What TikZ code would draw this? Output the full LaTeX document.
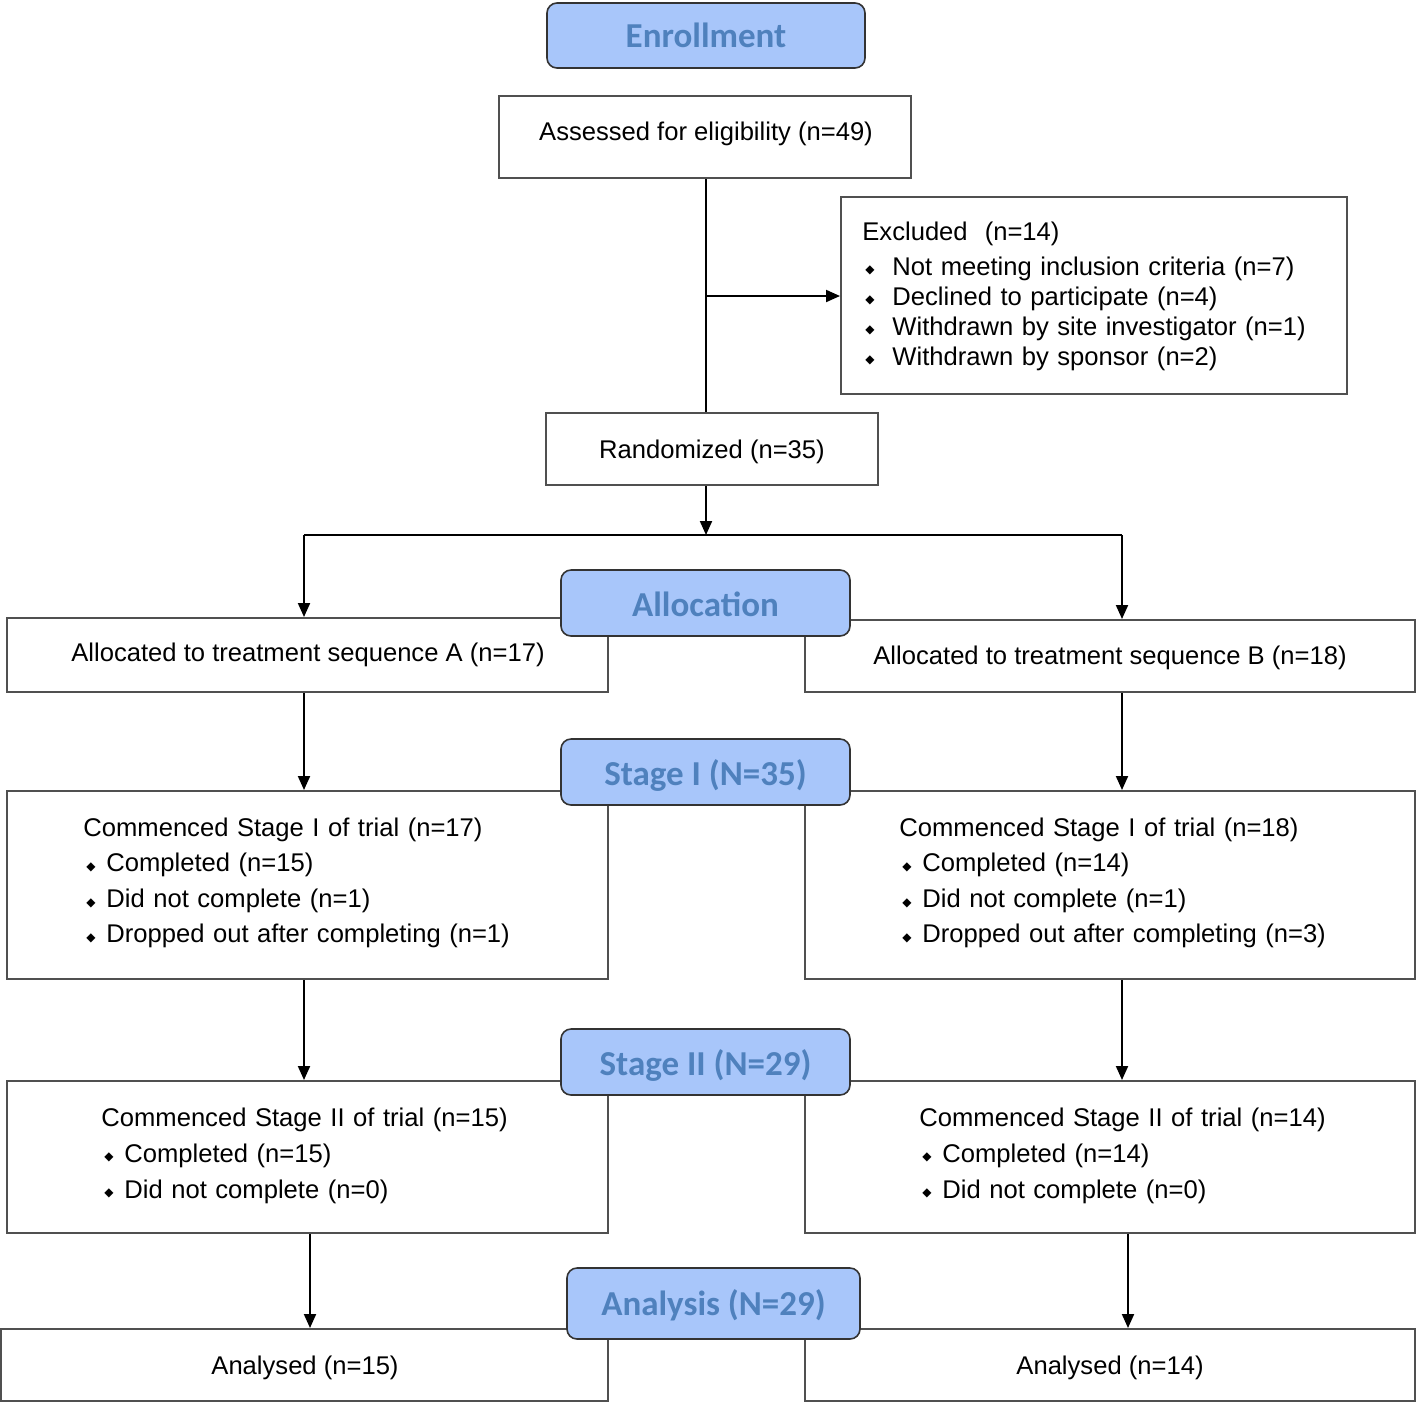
\documentclass[tikz,border=0pt]{standalone}
\usepackage{fontspec}
\setmainfont{Liberation Sans}
\newfontfamily\hdfont{Carlito}
\newfontfamily\symfont{DejaVu Sans}
\usetikzlibrary{arrows.meta}
\definecolor{hdfill}{RGB}{168,198,250}
\definecolor{hdtext}{RGB}{79,129,189}
\definecolor{boxline}{RGB}{80,80,80}
\newcommand\bul[1]{\makebox[#1][l]{\hspace{1.5pt}\raisebox{0.6pt}{\symfont\fontsize{6}{6}\selectfont ◆}}}
\newcommand\hdlow[2]{\raisebox{-#1}[\height][\depth]{#2}}
\begin{document}
\begin{tikzpicture}[x=0.5pt,y=-0.5pt,
  wbox/.style={draw=boxline,line width=1pt,fill=white,inner sep=0pt},
  hdbox/.style={draw=black!80,line width=0.8pt,fill=hdfill,rounded corners=5pt,inner sep=0pt,font=\hdfont\bfseries\fontsize{17.5}{20}\selectfont,text=hdtext},
  txt/.style={inner sep=0pt,font=\fontsize{12.8}{16}\selectfont},
  ltxt/.style={inner sep=0pt,anchor=base west,text width=260pt,align=left},
  arr/.style={-{Triangle[length=7pt,width=6pt]},line width=1pt},
  ln/.style={line width=1pt}]
\useasboundingbox (0,0) rectangle (1418,1404);

% white boxes
\node[wbox,minimum width=206pt,minimum height=41pt] (assess) at (705,137) {};
\node[wbox,minimum width=253pt,minimum height=98.5pt] (excl) at (1094,295.5) {};
\node[wbox,minimum width=166pt,minimum height=36pt] (rand) at (712,449) {};
\node[wbox,minimum width=300.5pt,minimum height=37pt] (allocA) at (307.5,655) {};
\node[wbox,minimum width=305pt,minimum height=36pt] (allocB) at (1110,656) {};
\node[wbox,minimum width=300.5pt,minimum height=94pt] (s1A) at (307.5,885) {};
\node[wbox,minimum width=305pt,minimum height=94pt] (s1B) at (1110,885) {};
\node[wbox,minimum width=300.5pt,minimum height=76pt] (s2A) at (307.5,1157) {};
\node[wbox,minimum width=305pt,minimum height=76pt] (s2B) at (1110,1157) {};
\node[wbox,minimum width=303.5pt,minimum height=36pt] (anA) at (304.5,1365) {};
\node[wbox,minimum width=305pt,minimum height=36pt] (anB) at (1110,1365) {};

% texts
\node[txt] (tassess) at (706,134) {Assessed for eligibility (n=49)};
\node[ltxt,font=\fontsize{12.8}{15}\selectfont] (texcl) at (862,240) {Excluded\ \ (n=14)\\[2.5pt]
\bul{15pt}Not meeting inclusion criteria (n=7)\\
\bul{15pt}Declined to participate (n=4)\\
\bul{15pt}Withdrawn by site investigator (n=1)\\
\bul{15pt}Withdrawn by sponsor (n=2)};
\node[txt] (trand) at (712,452) {Randomized (n=35)};
\node[txt] (tallocA) at (308,655) {Allocated to treatment sequence A (n=17)};
\node[txt] (tallocB) at (1110,658) {Allocated to treatment sequence B (n=18)};
\node[ltxt,font=\fontsize{12.8}{17.8}\selectfont] (ts1A) at (83,836) {Commenced Stage I of trial (n=17)\\
\bul{11.5pt}Completed (n=15)\\
\bul{11.5pt}Did not complete (n=1)\\
\bul{11.5pt}Dropped out after completing (n=1)};
\node[ltxt,font=\fontsize{12.8}{17.8}\selectfont] (ts1B) at (899,836) {Commenced Stage I of trial (n=18)\\
\bul{11.5pt}Completed (n=14)\\
\bul{11.5pt}Did not complete (n=1)\\
\bul{11.5pt}Dropped out after completing (n=3)};
\node[ltxt,font=\fontsize{12.8}{18}\selectfont] (ts2A) at (101,1126) {Commenced Stage II of trial (n=15)\\
\bul{11.5pt}Completed (n=15)\\
\bul{11.5pt}Did not complete (n=0)};
\node[ltxt,font=\fontsize{12.8}{18}\selectfont] (ts2B) at (919,1126) {Commenced Stage II of trial (n=14)\\
\bul{11.5pt}Completed (n=14)\\
\bul{11.5pt}Did not complete (n=0)};
\node[txt] (tanA) at (305,1368) {Analysed (n=15)};
\node[txt] (tanB) at (1110,1368) {Analysed (n=14)};

% connectors
\coordinate (sp) at (706,535);
\coordinate (br) at (706,296);
\coordinate (aL) at (304,535);
\coordinate (aR) at (1122,535);
\coordinate (eL) at (310,1233);
\coordinate (eR) at (1128,1233);
\draw[ln] (assess.south -| sp) -- (rand.north -| sp);
\draw[arr] (br) -- (br -| excl.west);
\draw[arr] (rand.south -| sp) -- (sp);
\draw[ln] (aL) -- (aR);
\draw[arr] (aL) -- (aL |- allocA.north);
\draw[arr] (aR) -- (aR |- allocB.north);
\draw[arr] (allocA.south -| aL) -- (s1A.north -| aL);
\draw[arr] (allocB.south -| aR) -- (s1B.north -| aR);
\draw[arr] (s1A.south -| aL) -- (s2A.north -| aL);
\draw[arr] (s1B.south -| aR) -- (s2B.north -| aR);
\draw[arr] (s2A.south -| eL) -- (anA.north -| eL);
\draw[arr] (s2B.south -| eR) -- (anB.north -| eR);

% headers
\node[hdbox,minimum width=159pt,minimum height=32.5pt] (hEnr) at (706,35.5) {Enrollment};
\node[hdbox,minimum width=144.5pt,minimum height=33pt] (hAlloc) at (705.5,603) {\hdlow{0.5pt}{Allocation}};
\node[hdbox,minimum width=144.5pt,minimum height=33pt] (hS1) at (705.5,772) {\hdlow{1.5pt}{Stage I (N=35)}};
\node[hdbox,minimum width=144.5pt,minimum height=33pt] (hS2) at (705.5,1062) {\hdlow{1.5pt}{Stage II (N=29)}};
\node[hdbox,minimum width=146.5pt,minimum height=35.5pt] (hAn) at (713.5,1303.5) {\hdlow{1pt}{Analysis (N=29)}};
\end{tikzpicture}
\end{document}
